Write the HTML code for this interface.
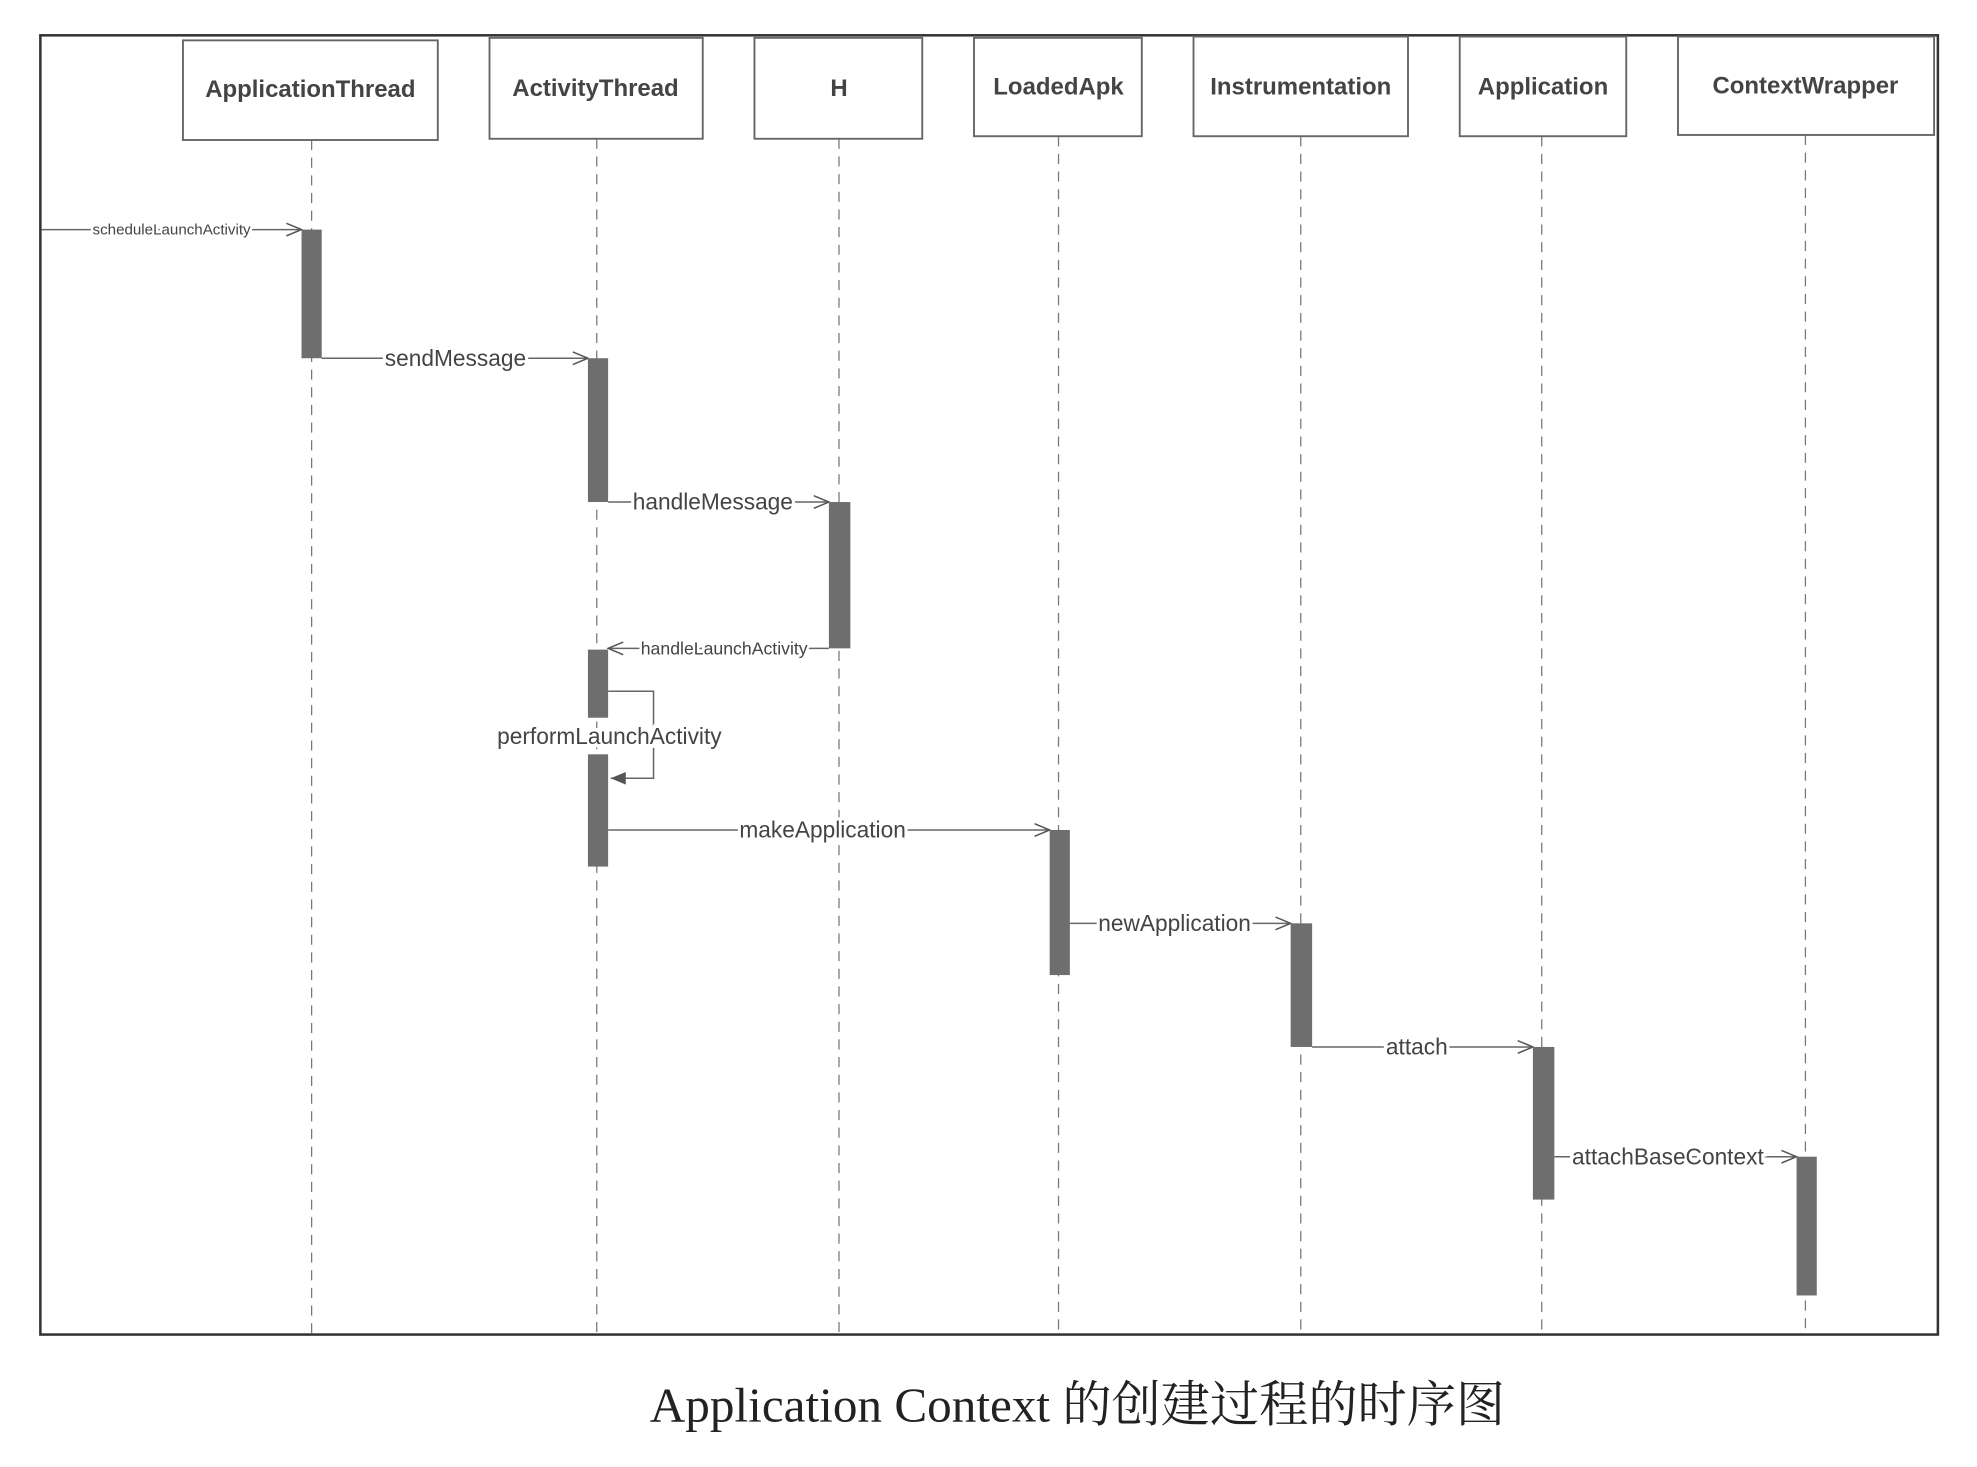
<!DOCTYPE html>
<html><head><meta charset="utf-8"><style>html,body{margin:0;padding:0;background:#fff}svg{display:block}</style></head>
<body>
<svg width="1977" height="1467" viewBox="0 0 1567 1163" preserveAspectRatio="none" xmlns="http://www.w3.org/2000/svg" font-family="Liberation Sans, sans-serif">
<defs>
<marker id="a" markerWidth="14" markerHeight="12" refX="13" refY="6" orient="auto" markerUnits="userSpaceOnUse"><path d="M1,1 L13,6 L1,11" fill="none" stroke="#555" stroke-width="1.2"/></marker>
<marker id="f" markerWidth="14" markerHeight="12" refX="13" refY="6" orient="auto" markerUnits="userSpaceOnUse"><path d="M1,1 L13,6 L1,11 Z" fill="#555"/></marker>
</defs>
<rect x="32" y="28" width="1504" height="1030" fill="none" stroke="#333" stroke-width="2"/>
<g stroke="#777" stroke-width="1" stroke-dasharray="8,6">
<line x1="247" y1="111" x2="247" y2="1058"/><line x1="473" y1="110" x2="473" y2="1058"/><line x1="665" y1="110" x2="665" y2="1058"/><line x1="839" y1="108" x2="839" y2="1058"/><line x1="1031" y1="108" x2="1031" y2="1058"/><line x1="1222" y1="108" x2="1222" y2="1058"/><line x1="1431" y1="107" x2="1431" y2="1058"/>
</g>
<g fill="#fff" stroke="#666" stroke-width="1.5">
<rect x="145" y="32" width="202" height="79"/><rect x="388" y="30" width="169" height="80"/><rect x="598" y="30" width="133" height="80"/><rect x="772" y="30" width="133" height="78"/><rect x="946" y="29" width="170" height="79"/><rect x="1157" y="29" width="132" height="79"/><rect x="1330" y="29" width="203" height="78"/>
</g>
<g fill="#444" font-size="19" font-weight="bold" text-anchor="middle">
<text x="246" y="77">ApplicationThread</text><text x="472" y="76">ActivityThread</text><text x="665" y="76">H</text><text x="839" y="75">LoadedApk</text><text x="1031" y="75">Instrumentation</text><text x="1223" y="75">Application</text><text x="1431" y="74">ContextWrapper</text>
</g>
<g stroke="#666" stroke-width="1.2" fill="none">
<line x1="33" y1="182" x2="239" y2="182" marker-end="url(#a)"/>
<line x1="255" y1="284" x2="466" y2="284" marker-end="url(#a)"/>
<line x1="482" y1="398" x2="657" y2="398" marker-end="url(#a)"/>
<line x1="657" y1="514" x2="482" y2="514" marker-end="url(#a)"/>
<polyline points="482,548 518,548 518,617 484,617" marker-end="url(#f)"/>
<line x1="482" y1="658" x2="832" y2="658" marker-end="url(#a)"/>
<line x1="848" y1="732" x2="1023" y2="732" marker-end="url(#a)"/>
<line x1="1040" y1="830" x2="1215" y2="830" marker-end="url(#a)"/>
<line x1="1232" y1="917" x2="1424" y2="917" marker-end="url(#a)"/>
</g>
<g fill="#6e6e6e">
<rect x="239" y="182" width="16" height="102"/><rect x="466" y="284" width="16" height="114"/><rect x="657" y="398" width="17" height="116"/><rect x="466" y="515" width="16" height="54"/><rect x="466" y="598" width="16" height="89"/><rect x="832" y="658" width="16" height="115"/><rect x="1023" y="732" width="17" height="98"/><rect x="1215" y="830" width="17" height="121"/><rect x="1424" y="917" width="16" height="110"/>
</g>
<g fill="#444" text-anchor="middle">
<text x="136" y="186" font-size="12" style="paint-order:stroke" stroke="#fff" stroke-width="4">scheduleLaunchActivity</text>
<text x="361" y="290" font-size="18" style="paint-order:stroke" stroke="#fff" stroke-width="5">sendMessage</text>
<text x="565" y="404" font-size="18" style="paint-order:stroke" stroke="#fff" stroke-width="5">handleMessage</text>
<text x="574" y="519" font-size="14" style="paint-order:stroke" stroke="#fff" stroke-width="4">handleLaunchActivity</text>
<text x="483" y="590" font-size="18" style="paint-order:stroke" stroke="#fff" stroke-width="6">performLaunchActivity</text>
<text x="652" y="664" font-size="18" style="paint-order:stroke" stroke="#fff" stroke-width="5">makeApplication</text>
<text x="931" y="738" font-size="18" style="paint-order:stroke" stroke="#fff" stroke-width="5">newApplication</text>
<text x="1123" y="836" font-size="18" style="paint-order:stroke" stroke="#fff" stroke-width="5">attach</text>
<text x="1322" y="923" font-size="18" style="paint-order:stroke" stroke="#fff" stroke-width="5">attachBaseContext</text>
</g>
<text x="854" y="1127" font-size="39" text-anchor="middle" fill="#222" font-family="Liberation Serif, Noto Serif CJK SC, serif">Application Context 的创建过程的时序图</text>
</svg>
</body></html>
